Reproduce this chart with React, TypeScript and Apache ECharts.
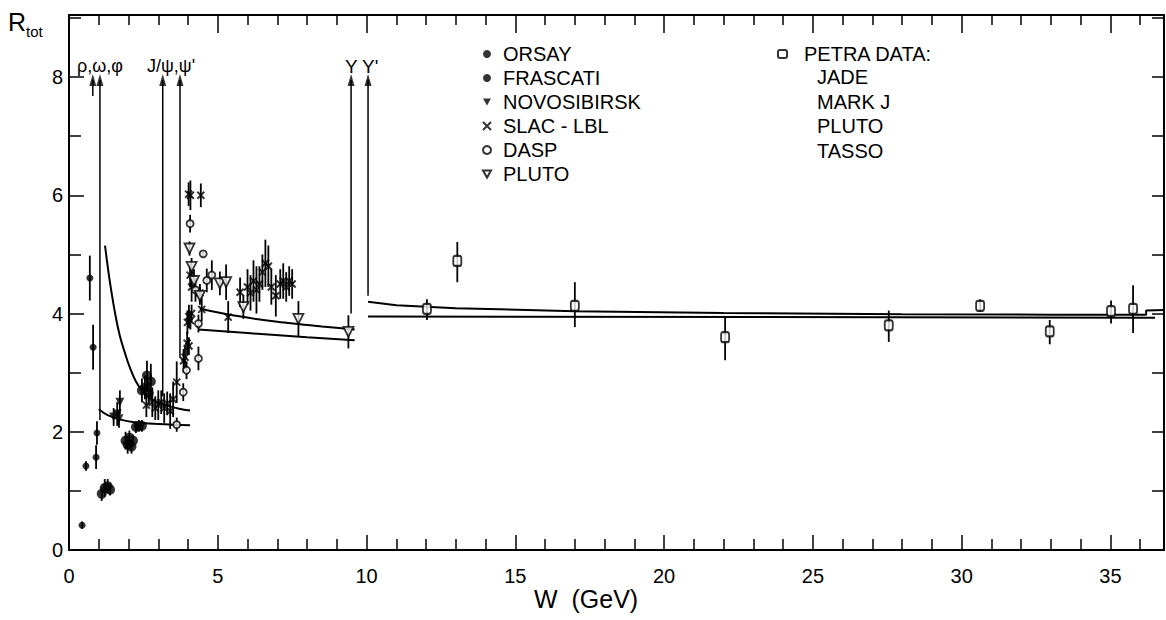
import React, { useEffect, useRef } from "react";
import * as echarts from "echarts";

const X_MAX = 36.8;
const Y_MAX = 9.05;
const FONT = "Liberation Sans, Arial, sans-serif";

// ---- data (W in GeV, R_tot) ----
const orsayX = [0.44, 0.57, 0.7, 0.81, 0.91, 0.94];
const orsayY = [0.42, 1.42, 4.6, 3.43, 1.57, 1.98];
const orsayErr = [0.06, 0.08, 0.38, 0.38, 0.2, 0.2];

const frascatiX = [1.1, 1.2, 1.3, 1.38, 1.9, 1.97, 2.03, 2.1, 2.15, 2.25, 2.35, 2.45, 2.45, 2.55, 2.62, 2.68, 2.75];
const frascatiY = [0.95, 1.05, 1.08, 1.02, 1.85, 1.78, 1.9, 1.75, 1.85, 2.08, 2.1, 2.1, 2.7, 2.75, 2.95, 2.65, 2.85];
const frascatiErr = [0.12, 0.15, 0.12, 0.1, 0.15, 0.15, 0.12, 0.12, 0.1, 0.1, 0.1, 0.1, 0.2, 0.2, 0.25, 0.2, 0.3];

const novosibirskX = [1.5, 1.62, 1.68, 1.71];
const novosibirskY = [2.25, 2.3, 2.22, 2.5];
const novosibirskErr = [0.15, 0.2, 0.15, 0.2];

const slacX = [2.6, 2.8, 2.9, 3.0, 3.1, 3.2, 3.3, 3.4, 3.5, 3.62, 3.85, 3.9, 3.97, 4.03, 3.98, 4.03, 4.08, 4.12, 4.02, 4.08, 4.43, 4.07, 4.12, 4.4, 4.46, 5.35, 5.75, 6.0, 6.1, 6.2, 6.3, 6.4, 6.5, 6.6, 6.7, 6.8, 6.95, 7.1, 7.2, 7.3, 7.4, 7.5];
const slacY = [2.45, 2.5, 2.4, 2.45, 2.5, 2.4, 2.48, 2.35, 2.55, 2.84, 3.2, 3.26, 3.5, 3.45, 3.85, 3.95, 3.88, 4.0, 6.02, 6.0, 6.0, 4.65, 4.45, 4.35, 4.07, 3.94, 4.36, 4.45, 4.35, 4.55, 4.4, 4.5, 4.7, 4.85, 4.8, 4.45, 4.3, 4.5, 4.55, 4.45, 4.55, 4.5];
const slacErr = [0.2, 0.25, 0.2, 0.25, 0.2, 0.25, 0.2, 0.3, 0.3, 0.35, 0.2, 0.2, 0.2, 0.15, 0.2, 0.2, 0.15, 0.15, 0.2, 0.25, 0.2, 0.2, 0.25, 0.15, 0.2, 0.27, 0.25, 0.3, 0.3, 0.35, 0.4, 0.3, 0.3, 0.4, 0.35, 0.3, 0.35, 0.25, 0.3, 0.25, 0.25, 0.25];

const daspX = [3.62, 3.84, 3.95, 4.35, 4.35, 4.07, 4.51, 4.63, 4.8, 4.25];
const daspY = [2.12, 2.67, 3.04, 3.24, 3.83, 5.52, 5.01, 4.56, 4.65, 4.4];
const daspErr = [0.12, 0.15, 0.15, 0.2, 0.15, 0.15, 0.05, 0.2, 0.25, 0.2];

const plutoX = [4.05, 4.12, 4.2, 4.4, 5.07, 5.28, 5.86, 7.71, 9.39];
const plutoY = [5.1, 4.79, 4.55, 4.3, 4.51, 4.53, 4.11, 3.91, 3.69];
const plutoErr = [0.12, 0.15, 0.2, 0.15, 0.2, 0.3, 0.2, 0.3, 0.28];

const petraX = [12.03, 13.05, 17.0, 22.05, 27.55, 30.62, 32.96, 35.02, 35.76];
const petraY = [4.08, 4.89, 4.13, 3.6, 3.8, 4.13, 3.7, 4.04, 4.08];
const petraErrLo = [0.19, 0.36, 0.36, 0.39, 0.28, 0.1, 0.22, 0.21, 0.41];
const petraErrHi = [0.16, 0.32, 0.4, 0.34, 0.25, 0.11, 0.19, 0.18, 0.4];

// theory curves
const hi1X = [1.21, 1.3, 1.4, 1.55, 1.71, 1.9, 2.05, 2.25, 2.45, 2.7, 3.0, 3.4, 3.7, 4.07];
const hi1Y = [5.15, 4.8, 4.45, 4.0, 3.62, 3.3, 3.08, 2.85, 2.7, 2.58, 2.5, 2.43, 2.39, 2.36];
const lo1X = [1.0, 1.3, 1.7, 2.2, 3.0, 4.07];
const lo1Y = [2.38, 2.28, 2.21, 2.16, 2.13, 2.11];
const hi2X = [4.4, 5.5, 7.0, 8.5, 9.6];
const hi2Y = [4.08, 3.97, 3.86, 3.78, 3.73];
const lo2X = [4.35, 6.0, 8.0, 9.6];
const lo2Y = [3.73, 3.67, 3.6, 3.55];
const hi3X = [10.05, 11, 13, 17, 22, 28, 33, 36.2, 36.2, 36.8];
const hi3Y = [4.2, 4.14, 4.09, 4.04, 4.01, 3.99, 3.98, 3.98, 4.05, 4.06];
const lo3X = [10.05, 36.5];
const lo3Y = [3.95, 3.93];

// resonance arrows
const resX = [0.8, 1.04, 3.15, 3.73, 9.48, 10.05];
const resYBottom = [7.68, 2.2, 2.6, 3.25, 4.0, 4.3];
const resYTop = 7.95;

const petraSub = ["JADE", "MARK J", "PLUTO", "TASSO"];

const DOWN_TRI = "path://M0,0L10,0L5,9Z";
const CROSS = "path://M0,0L10,10M10,0L0,10";

function pairs(xs: number[], ys: number[]) {
  return xs.map((x, i) => [x, ys[i]]);
}

function errSeries(xs: number[], ys: number[], lo: number[], hi: number[]) {
  return {
    type: "custom",
    silent: true,
    z: 1,
    encode: { x: 0, y: [1, 2] },
    data: xs.map((x, i) => [x, ys[i] - lo[i], ys[i] + hi[i]]),
    renderItem: (params: any, api: any) => {
      const p1 = api.coord([api.value(0), api.value(1)]);
      const p2 = api.coord([api.value(0), api.value(2)]);
      return {
        type: "line",
        shape: { x1: p1[0], y1: p1[1], x2: p2[0], y2: p2[1] },
        style: { stroke: "#000", lineWidth: 1.8 },
      };
    },
  };
}

function lineSeries(xs: number[], ys: number[], smooth: number | boolean = false) {
  return {
    type: "line",
    data: pairs(xs, ys),
    showSymbol: false,
    symbol: "none",
    smooth,
    silent: true,
    lineStyle: { color: "#000", width: 2 },
    z: 2,
  };
}

function scatter(name: string, xs: number[], ys: number[], style: any) {
  return {
    type: "scatter",
    name,
    data: pairs(xs, ys),
    z: 3,
    ...style,
  };
}

export default function App() {
  const ref = useRef<HTMLDivElement>(null);
  useEffect(() => {
    if (!ref.current) return;
    const chart = echarts.init(ref.current, null, { renderer: "svg" });
    const black = "#000";
    const axisCommon = {
      type: "value",
      min: 0,
      splitLine: { show: false },
      axisLine: { show: true, onZero: false, lineStyle: { color: black, width: 2 } },
    };
    const legendText = { fontSize: 20, color: black, fontFamily: FONT };
    const option: any = {
      animation: false,
      backgroundColor: "#fff",
      textStyle: { fontFamily: FONT, color: black },
      grid: { left: 69, right: 2, top: 15, bottom: 70, outerBoundsMode: "none", containLabel: false },
      xAxis: [
        {
          ...axisCommon,
          position: "bottom",
          max: X_MAX,
          interval: 5,
          axisTick: { show: true, inside: true, length: 15, lineStyle: { color: black, width: 1.5 } },
          minorTick: { show: true, splitNumber: 5, length: 11, lineStyle: { color: black, width: 1.5 } },
          axisLabel: { show: true, showMaxLabel: false, margin: 16, fontSize: 20, color: black, fontFamily: FONT },
        },
        {
          ...axisCommon,
          position: "top",
          max: X_MAX,
          interval: 5,
          axisTick: { show: true, inside: true, length: 18, lineStyle: { color: black, width: 1.5 } },
          minorTick: { show: true, splitNumber: 5, length: 10, lineStyle: { color: black, width: 1.5 } },
          axisLabel: { show: false },
        },
      ],
      yAxis: [
        {
          ...axisCommon,
          position: "left",
          max: Y_MAX,
          interval: 2,
          axisTick: { show: true, inside: true, length: 15, lineStyle: { color: black, width: 1.5 } },
          minorTick: { show: true, splitNumber: 2, length: 12, lineStyle: { color: black, width: 1.5 } },
          axisLabel: { show: true, showMaxLabel: false, margin: 6, fontSize: 20, color: black, fontFamily: FONT },
        },
        {
          ...axisCommon,
          position: "right",
          max: Y_MAX,
          interval: 1,
          axisTick: { show: true, inside: true, length: 12, lineStyle: { color: black, width: 1.5 } },
          axisLabel: { show: false },
        },
      ],
      legend: [
        {
          orient: "vertical",
          left: 482,
          top: 44,
          padding: 0,
          itemGap: 4,
          itemWidth: 8,
          itemHeight: 8,
          selectedMode: false,
          data: [
            { name: "ORSAY", icon: "circle" },
            { name: "FRASCATI", icon: "circle" },
            { name: "NOVOSIBIRSK", icon: DOWN_TRI },
            { name: "SLAC - LBL", icon: CROSS },
            { name: "DASP", icon: "circle" },
            { name: "PLUTO", icon: DOWN_TRI },
          ],
          textStyle: { ...legendText, padding: [0, 0, 0, 7] },
        },
        {
          orient: "vertical",
          left: 777,
          top: 44,
          padding: 0,
          itemWidth: 9,
          itemHeight: 8,
          selectedMode: false,
          data: [{ name: "PETRA DATA:", icon: "roundRect" }],
          textStyle: { ...legendText, padding: [0, 0, 0, 12] },
        },
      ],
      graphic: [
        { type: "text", left: 8, top: 9, style: { text: "R", fontSize: 25, fontFamily: FONT, fill: black } },
        { type: "text", left: 26, top: 24, style: { text: "tot", fontSize: 15, fontFamily: FONT, fill: black } },
        { type: "text", left: 77, top: 57, style: { text: "ρ,ω,φ", fontSize: 18, fontFamily: FONT, fill: black } },
        { type: "text", left: 147, top: 57, style: { text: "J/ψ,ψ'", fontSize: 18, fontFamily: FONT, fill: black } },
        { type: "text", left: 345, top: 57, style: { text: "Υ", fontSize: 19, fontFamily: FONT, fill: black } },
        { type: "text", left: 362, top: 57, style: { text: "Υ'", fontSize: 19, fontFamily: FONT, fill: black } },
        { type: "text", left: 534, top: 586, style: { text: "W  (GeV)", fontSize: 25, fontFamily: FONT, fill: black } },
        ...petraSub.map((t, i) => ({
          type: "text",
          left: 817,
          top: 67 + i * 24.6,
          style: { text: t, fontSize: 20, fontFamily: FONT, fill: black },
        })),
      ],
      series: [
        errSeries(orsayX, orsayY, orsayErr, orsayErr),
        errSeries(frascatiX, frascatiY, frascatiErr, frascatiErr),
        errSeries(novosibirskX, novosibirskY, novosibirskErr, novosibirskErr),
        errSeries(slacX, slacY, slacErr, slacErr),
        errSeries(daspX, daspY, daspErr, daspErr),
        errSeries(plutoX, plutoY, plutoErr, plutoErr),
        errSeries(petraX, petraY, petraErrLo, petraErrHi),
        lineSeries(hi1X, hi1Y, 0.4),
        lineSeries(lo1X, lo1Y, 0.4),
        lineSeries(hi2X, hi2Y, 0.3),
        lineSeries(lo2X, lo2Y),
        lineSeries(hi3X, hi3Y),
        lineSeries(lo3X, lo3Y),
        // resonance marker lines
        {
          type: "custom",
          silent: true,
          z: 2,
          encode: { x: 0, y: [1, 2] },
          data: resX.map((x, i) => [x, resYBottom[i], resYTop]),
          renderItem: (params: any, api: any) => {
            const p1 = api.coord([api.value(0), api.value(1)]);
            const p2 = api.coord([api.value(0), api.value(2)]);
            return {
              type: "line",
              shape: { x1: p1[0], y1: p1[1], x2: p2[0], y2: p2[1] },
              style: { stroke: "#000", lineWidth: 1.5 },
            };
          },
        },
        // arrow heads
        {
          type: "scatter",
          silent: true,
          z: 3,
          symbol: "triangle",
          symbolSize: [7, 12],
          itemStyle: { color: black },
          data: resX.map((x) => [x, resYTop]),
        },
        scatter("ORSAY", orsayX, orsayY, { symbol: "circle", symbolSize: 7, itemStyle: { color: black } }),
        scatter("FRASCATI", frascatiX, frascatiY, { symbol: "circle", symbolSize: 10, itemStyle: { color: black } }),
        scatter("NOVOSIBIRSK", novosibirskX, novosibirskY, {
          symbol: "triangle",
          symbolRotate: 180,
          symbolSize: 9,
          itemStyle: { color: black },
        }),
        scatter("SLAC - LBL", slacX, slacY, {
          symbol: CROSS,
          symbolSize: 7,
          itemStyle: { color: black, borderColor: black, borderWidth: 2 },
        }),
        scatter("DASP", daspX, daspY, {
          symbol: "circle",
          symbolSize: 7,
          itemStyle: { color: "#fff", borderColor: black, borderWidth: 1.8 },
        }),
        scatter("PLUTO", plutoX, plutoY, {
          symbol: "triangle",
          symbolRotate: 180,
          symbolSize: 10,
          itemStyle: { color: "#fff", borderColor: black, borderWidth: 1.8 },
        }),
        scatter("PETRA DATA:", petraX, petraY, {
          symbol: "roundRect",
          symbolSize: [8, 10],
          itemStyle: { color: "#fff", borderColor: black, borderWidth: 2 },
        }),
      ],
    };
    chart.setOption(option);
    return () => chart.dispose();
  }, []);
  return (
    <div
      ref={ref}
      style={{ position: "fixed", left: 0, top: 0, width: 1166, height: 620, background: "#fff" }}
    />
  );
}
